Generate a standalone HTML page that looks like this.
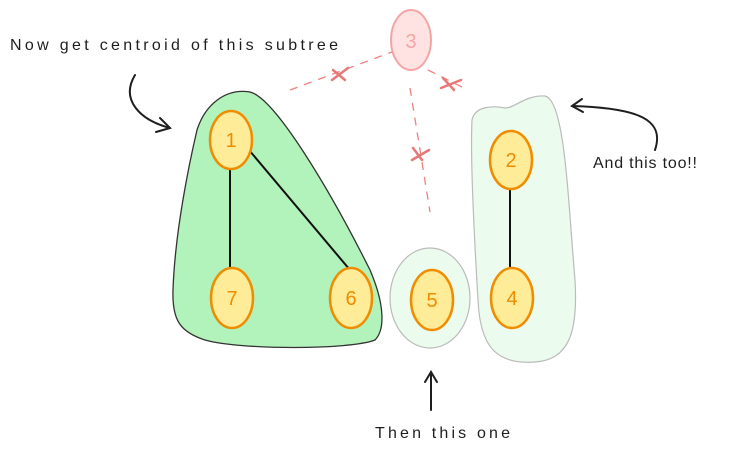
<html><head><style>body{margin:0;background:#fff}svg{display:block}text{font-family:"Liberation Sans",sans-serif}</style></head><body>
<svg width="735" height="453" viewBox="0 0 735 453">
<path d="M197,130 C205,105 225,88 250,92 C275,98 330,190 370,270 C385,305 385,330 375,340 C350,350 240,350 205,340 C180,332 172,320 173,290 C175,230 190,160 197,130 Z" fill="#b2f2bb" stroke="#333" stroke-width="1.3"/>
<ellipse cx="430" cy="298" rx="40" ry="50" fill="#ebfbee" stroke="#bbb" stroke-width="1.2"/>
<path d="M472,120 C475,105 495,106 505,108 C515,108 525,95 545,96 C565,100 568,200 575,280 C578,330 570,360 535,362 C495,365 480,345 478,300 C475,250 470,160 472,120 Z" fill="#ebfbee" stroke="#bbb" stroke-width="1.2"/>
<g stroke="#f08080" stroke-width="1.3" stroke-dasharray="8,7" fill="none">
<line x1="290" y1="90" x2="392" y2="52"/><line x1="428" y1="70" x2="468" y2="90"/><line x1="410" y1="88" x2="430" y2="212"/></g>
<g stroke="#e87878" stroke-width="2.5" stroke-linecap="round">
<line x1="333" y1="70" x2="345" y2="80"/><line x1="332" y1="80" x2="348" y2="68"/>
<line x1="443" y1="78" x2="454" y2="90"/><line x1="441" y1="88" x2="461" y2="80"/>
<line x1="413" y1="148" x2="422" y2="160"/><line x1="412" y1="160" x2="429" y2="150"/></g>
<ellipse cx="411" cy="40" rx="20" ry="30" fill="#ffe3e3" stroke="#f4a5a5" stroke-width="2"/>
<text x="411" y="48" font-size="20" fill="#f4a5a5" text-anchor="middle">3</text>
<g stroke="#111" stroke-width="2"><line x1="230" y1="170" x2="230" y2="270"/><line x1="249" y1="150" x2="350" y2="270"/><line x1="510" y1="190" x2="510" y2="270"/></g>
<g fill="#ffec99" stroke="#f08c00" stroke-width="2.5">
<ellipse cx="231" cy="140" rx="21" ry="29"/><ellipse cx="232" cy="298" rx="21" ry="30"/><ellipse cx="351" cy="298" rx="21" ry="30"/><ellipse cx="432" cy="300" rx="21" ry="30"/><ellipse cx="512" cy="298" rx="21" ry="30"/><ellipse cx="511" cy="160" rx="21" ry="29"/></g>
<g fill="#f08c00" font-size="20" text-anchor="middle">
<text x="231" y="147">1</text><text x="232" y="305">7</text><text x="351" y="305">6</text><text x="432" y="307">5</text><text x="512" y="305">4</text><text x="511" y="167">2</text></g>
<g fill="#1e1e1e" font-size="16"><text x="10" y="50" textLength="328" lengthAdjust="spacing">Now get centroid of this subtree</text><text x="593" y="168" textLength="104" lengthAdjust="spacing">And this too!!</text><text x="375" y="438" textLength="135" lengthAdjust="spacing">Then this one</text></g>
<g stroke="#1e1e1e" stroke-width="2" fill="none" stroke-linecap="round">
<path d="M135,75 C120,100 140,120 170,128"/><path d="M160,118 L170,128 L156,132"/>
<path d="M655,150 C665,120 640,108 572,106"/><path d="M582,99 L572,106 L583,112"/>
<path d="M431,410 L431,372"/><path d="M425,382 L431,372 L437,382"/></g>
</svg></body></html>
